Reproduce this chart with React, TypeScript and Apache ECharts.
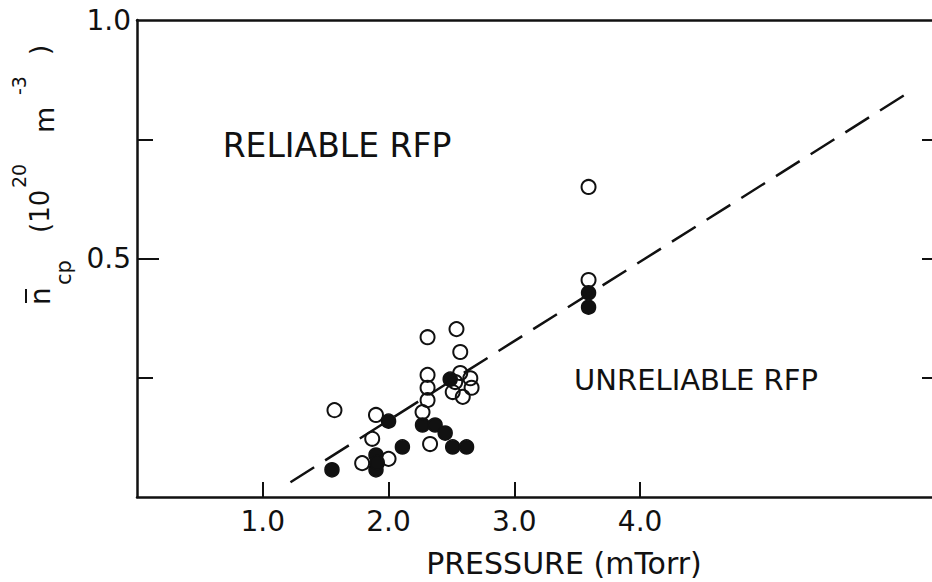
import React, { useEffect, useRef } from "react";
import * as echarts from "echarts";

// Open circles: pressure (mTorr), density (10^20 m^-3)
const openPressure = [1.57, 1.90, 1.87, 1.79, 2.00, 2.33, 2.31, 2.54, 2.57, 2.31, 2.31, 2.31, 2.27, 2.57, 2.65, 2.66, 2.59, 2.51, 2.53, 3.59, 3.59];
const openDensity = [0.182, 0.172, 0.122, 0.071, 0.080, 0.111, 0.335, 0.352, 0.304, 0.256, 0.229, 0.203, 0.178, 0.260, 0.249, 0.229, 0.210, 0.220, 0.241, 0.455, 0.650];
// Filled circles
const filledPressure = [1.55, 2.00, 2.11, 1.90, 1.90, 1.91, 2.27, 2.37, 2.45, 2.51, 2.62, 2.49, 3.59, 3.59];
const filledDensity = [0.057, 0.159, 0.105, 0.088, 0.057, 0.072, 0.151, 0.151, 0.134, 0.105, 0.105, 0.247, 0.428, 0.398];
// Dashed boundary line end points
const linePressure = [1.22, 6.14];
const lineDensity = [0.031, 0.849];

const xTicks = [1, 2, 3, 4];
const yLabelTicks = [0.5, 1.0];
const yMinorTicks = [0.25, 0.75];
const yRightTicks = [0.25, 0.5, 0.75];

const FONT = "DejaVu Sans";
const INK = "#111";

const txt = (text: string, x: number, y: number, size: number) => ({
  type: "text",
  x,
  y,
  style: { text, font: `${size}px '${FONT}'`, fill: INK, textAlign: "left", textVerticalAlign: "middle", align: "left", verticalAlign: "middle" },
});

export default function App() {
  const ref = useRef<HTMLDivElement>(null);
  useEffect(() => {
    if (!ref.current) return;
    const chart = echarts.init(ref.current, undefined, { renderer: "svg" });
    const pair = (xs: number[], ys: number[]) => xs.map((x, i) => [x, ys[i]]);
    const titleGroup = {
      type: "group",
      x: 50,
      y: 305,
      rotation: Math.PI / 2,
      children: [
        txt("n", 0, -10, 28),
        { type: "line", shape: { x1: 2, y1: -24, x2: 16, y2: -24 }, style: { stroke: INK, lineWidth: 2 } },
        txt("cp", 20, 14, 21),
        txt("(10", 72, -10, 26),
        txt("20", 117, -31, 19),
        txt("m", 172, -6, 27),
        txt("-3", 210, -31, 19),
        txt(")", 250, -10, 26),
      ],
    };
    chart.setOption({
      animation: false,
      backgroundColor: "#fff",
      textStyle: { fontFamily: FONT, color: INK },
      grid: { left: 137, top: 20, width: 805, height: 477, outerBoundsMode: "none", containLabel: false },
      xAxis: [
        {
          type: "value",
          min: 0,
          max: 6.4,
          interval: 1,
          axisLine: { show: true, onZero: false, lineStyle: { color: INK, width: 2.5 } },
          axisTick: { show: true, inside: true, length: 15, customValues: xTicks, lineStyle: { color: INK, width: 2 } },
          axisLabel: { show: true, customValues: xTicks, formatter: (v: number) => v.toFixed(1), fontSize: 28, color: INK, fontFamily: FONT, margin: 10 },
          splitLine: { show: false },
        },
        {
          type: "value",
          position: "top",
          min: 0,
          max: 6.4,
          axisLine: { show: true, onZero: false, lineStyle: { color: INK, width: 2.5 } },
          axisTick: { show: false },
          axisLabel: { show: false },
          splitLine: { show: false },
        },
      ],
      yAxis: [
        {
          type: "value",
          min: 0,
          max: 1,
          interval: 0.25,
          axisLine: { show: true, onZero: false, lineStyle: { color: INK, width: 2.5 } },
          axisTick: { show: true, inside: true, length: 16, customValues: yMinorTicks, lineStyle: { color: INK, width: 2 } },
          axisLabel: { show: true, customValues: yLabelTicks, formatter: (v: number) => v.toFixed(1), fontSize: 28, color: INK, fontFamily: FONT, margin: 6 },
          splitLine: { show: false },
        },
        {
          type: "value",
          position: "left",
          min: 0,
          max: 1,
          axisLine: { show: false },
          axisTick: { show: true, inside: true, length: 22, customValues: [0.5], lineStyle: { color: INK, width: 2 } },
          axisLabel: { show: false },
          splitLine: { show: false },
        },
        {
          type: "value",
          position: "right",
          min: 0,
          max: 1,
          axisLine: { show: true, onZero: false, lineStyle: { color: INK, width: 2.5 } },
          axisTick: { show: true, inside: true, length: 20, customValues: yRightTicks, lineStyle: { color: INK, width: 2 } },
          axisLabel: { show: false },
          splitLine: { show: false },
        },
      ],
      series: [
        {
          type: "line",
          data: pair(linePressure, lineDensity),
          symbol: "none",
          lineStyle: { color: INK, width: 2.5, type: [28, 13] },
          silent: true,
        },
        {
          type: "scatter",
          data: pair(filledPressure, filledDensity),
          symbol: "circle",
          symbolSize: 14,
          itemStyle: { color: INK, borderColor: INK, borderWidth: 1.5, opacity: 1 },
        },
        {
          type: "scatter",
          data: pair(openPressure, openDensity),
          symbol: "circle",
          symbolSize: 14,
          itemStyle: { color: "rgba(255,255,255,0)", borderColor: INK, borderWidth: 2, opacity: 1 },
        },
      ],
      graphic: [
        { type: "text", x: 337, y: 145, style: { text: "RELIABLE RFP", font: `33px '${FONT}'`, fill: INK, textAlign: "center", textVerticalAlign: "middle", align: "center", verticalAlign: "middle" } },
        { type: "text", x: 696, y: 380, style: { text: "UNRELIABLE RFP", font: `29px '${FONT}'`, fill: INK, textAlign: "center", textVerticalAlign: "middle", align: "center", verticalAlign: "middle" } },
        { type: "text", x: 564, y: 563, style: { text: "PRESSURE (mTorr)", font: `30px '${FONT}'`, fill: INK, textAlign: "center", textVerticalAlign: "middle", align: "center", verticalAlign: "middle" } },
        titleGroup,
      ],
    });
    return () => chart.dispose();
  }, []);
  return <div ref={ref} style={{ position: "absolute", left: 0, top: 0, width: 932, height: 582 }} />;
}
